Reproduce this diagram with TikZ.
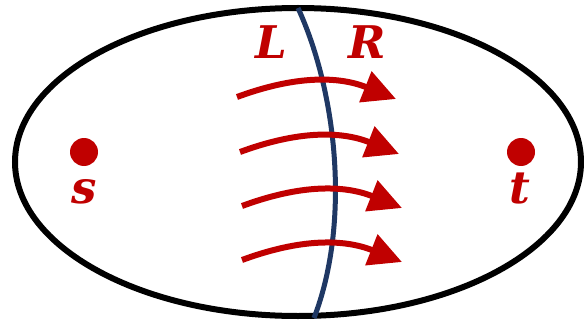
\documentclass[tikz,border=0pt]{standalone}
\usepackage{fontspec}
\setmainfont{DejaVu Serif}
\usepackage{tikz}
\usetikzlibrary{arrows.meta, positioning}

\definecolor{cutred}{RGB}{192,0,0}
\definecolor{cutblue}{RGB}{31,56,100}

\tikzset{
	vertex/.style={circle, fill=cutred, inner sep=0pt, minimum size=28pt},
	lbl/.style={text=cutred, font=\fontsize{45}{45}\selectfont\bfseries\itshape, anchor=base, inner sep=0pt},
	flow/.style={draw=cutred, line width=6pt, -{Triangle[length=33pt, width=32pt]}}
}

\begin{document}
\begin{tikzpicture}[x=1pt, y=1pt]
	
	\useasboundingbox (0,0) rectangle (584,322);
	
	% Grafo (ellisse)
	\draw[line width=6pt] (298,160) ellipse (283pt and 154pt);
	
	% Taglio
	\draw[cutblue, line width=5pt] (298,314) .. controls (338,227) and (350,97) .. (314,4);
	\node[lbl] (L) at (271,263) {L};
	\node[lbl] (R) at (367,263) {R};
	
	% Sorgente e pozzo
	\node[vertex] (s) at (84,170) {};
	\node[vertex] (t) at (521,170) {};
	\node[lbl] (slbl) at (84,119) {s};
	\node[lbl] (tlbl) at (520,119) {t};
	
	% Archi che attraversano il taglio
	\coordinate (a1) at (237,225);
	\coordinate (b1) at (396,223);
	\coordinate (a2) at (240,170);
	\coordinate (b2) at (399,168);
	\coordinate (a3) at (242,116);
	\coordinate (b3) at (402,114);
	\coordinate (a4) at (242,62);
	\coordinate (b4) at (402,60);
	\draw[flow] (a1) to[bend left=21] (b1);
	\draw[flow] (a2) to[bend left=21] (b2);
	\draw[flow] (a3) to[bend left=21] (b3);
	\draw[flow] (a4) to[bend left=21] (b4);
	
\end{tikzpicture}
\end{document}
